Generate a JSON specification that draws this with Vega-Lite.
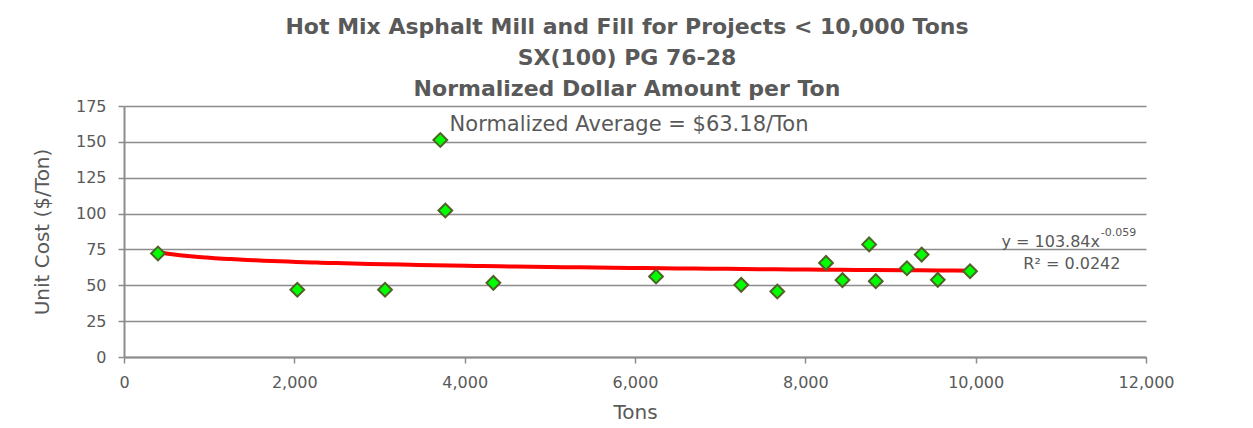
{
  "$schema": "https://vega.github.io/schema/vega-lite/v6.json",
  "width": 1022,
  "height": 251,
  "autosize": {"type": "none"},
  "padding": {"left": 124, "top": 106, "right": 107, "bottom": 71},
  "background": "white",
  "title": {
    "text": ["Hot Mix Asphalt Mill and Fill for Projects < 10,000 Tons", "SX(100) PG 76-28", "Normalized Dollar Amount per Ton"],
    "font": "DejaVu Sans",
    "fontSize": 22,
    "fontWeight": "bold",
    "color": "#595959",
    "lineHeight": 31,
    "anchor": "middle",
    "dx": -8,
    "offset": -3
  },
  "config": {
    "view": {"stroke": null},
    "font": "DejaVu Sans",
    "axis": {
      "labelFont": "DejaVu Sans",
      "titleFont": "DejaVu Sans",
      "labelColor": "#595959",
      "titleColor": "#595959",
      "labelFontSize": 16,
      "titleFontSize": 20,
      "titleFontWeight": "normal",
      "domainColor": "#8c8c8c",
      "domainWidth": 2,
      "tickColor": "#8c8c8c",
      "tickWidth": 1.5,
      "tickSize": 6,
      "gridColor": "#8c8c8c",
      "gridWidth": 1.5,
      "labelFlush": false
    }
  },
  "layer": [
    {
      "data": {
        "values": [
          {"tons": 399, "cost": 72.2},
          {"tons": 2035, "cost": 46.9},
          {"tons": 3065, "cost": 46.9},
          {"tons": 3714, "cost": 151.3},
          {"tons": 3773, "cost": 102.1},
          {"tons": 4337, "cost": 51.7},
          {"tons": 6247, "cost": 56.1},
          {"tons": 7247, "cost": 50.3},
          {"tons": 7671, "cost": 45.7},
          {"tons": 8243, "cost": 65.6},
          {"tons": 8436, "cost": 53.6},
          {"tons": 8749, "cost": 78.5},
          {"tons": 8827, "cost": 52.9},
          {"tons": 9193, "cost": 61.9},
          {"tons": 9366, "cost": 71.4},
          {"tons": 9555, "cost": 53.8},
          {"tons": 9934, "cost": 59.8}
        ]
      },
      "encoding": {
        "x": {
          "field": "tons",
          "type": "quantitative",
          "scale": {"domain": [0, 12000], "nice": false, "zero": true},
          "axis": {
            "title": "Tons",
            "values": [0, 2000, 4000, 6000, 8000, 10000, 12000],
            "labelExpr": "format(datum.value, ',')",
            "grid": false,
            "labelPadding": 11,
            "titlePadding": 12
          }
        },
        "y": {
          "field": "cost",
          "type": "quantitative",
          "scale": {"domain": [0, 175], "nice": false},
          "axis": {
            "title": "Unit Cost  ($/Ton)",
            "values": [0, 25, 50, 75, 100, 125, 150, 175],
            "grid": true,
            "labelPadding": 12,
            "titlePadding": 23
          }
        }
      },
      "layer": [
        {
          "transform": [{"regression": "cost", "on": "tons", "method": "pow"}],
          "mark": {"type": "line", "color": "#ff0000", "strokeWidth": 4, "interpolate": "monotone"}
        },
        {
          "mark": {"type": "point", "shape": "diamond", "filled": true, "fill": "#00ff00", "stroke": "#4f6228", "strokeWidth": 2, "size": 190, "opacity": 1}
        }
      ]
    },
    {
      "data": {
        "values": [
          {"label": "Normalized Average = $63.18/Ton", "part": "avg"},
          {"label": "y = 103.84x", "part": "eq"},
          {"label": "-0.059", "part": "exp"},
          {"label": "R² = 0.0242", "part": "r2"}
        ]
      },
      "encoding": {
        "x": {
          "datum": 0,
          "type": "quantitative",
          "scale": {"domain": [0, 12000], "nice": false, "zero": true},
          "axis": {
            "title": "Tons",
            "values": [0, 2000, 4000, 6000, 8000, 10000, 12000],
            "labelExpr": "format(datum.value, ',')",
            "grid": false,
            "labelPadding": 11,
            "titlePadding": 12
          }
        },
        "y": {
          "datum": 0,
          "type": "quantitative",
          "scale": {"domain": [0, 175], "nice": false},
          "axis": {
            "title": "Unit Cost  ($/Ton)",
            "values": [0, 25, 50, 75, 100, 125, 150, 175],
            "grid": true,
            "labelPadding": 12,
            "titlePadding": 23
          }
        },
        "text": {"field": "label"}
      },
      "layer": [
        {
          "transform": [{"filter": "datum.part === 'avg'"}],
          "mark": {"type": "text", "fontSize": 21, "color": "#595959", "align": "center", "baseline": "middle", "font": "DejaVu Sans"},
          "encoding": {
            "x": {"datum": 5930, "type": "quantitative"},
            "y": {"datum": 162, "type": "quantitative"}
          }
        },
        {
          "transform": [{"filter": "datum.part === 'eq'"}],
          "mark": {"type": "text", "fontSize": 16, "color": "#595959", "align": "right", "baseline": "middle", "font": "DejaVu Sans"},
          "encoding": {
            "x": {"datum": 11460, "type": "quantitative"},
            "y": {"datum": 80.5, "type": "quantitative"}
          }
        },
        {
          "transform": [{"filter": "datum.part === 'exp'"}],
          "mark": {"type": "text", "fontSize": 11, "color": "#595959", "align": "left", "baseline": "middle", "font": "DejaVu Sans"},
          "encoding": {
            "x": {"datum": 11470, "type": "quantitative"},
            "y": {"datum": 86.5, "type": "quantitative"}
          }
        },
        {
          "transform": [{"filter": "datum.part === 'r2'"}],
          "mark": {"type": "text", "fontSize": 16, "color": "#595959", "align": "center", "baseline": "middle", "font": "DejaVu Sans"},
          "encoding": {
            "x": {"datum": 11130, "type": "quantitative"},
            "y": {"datum": 64.5, "type": "quantitative"}
          }
        }
      ]
    }
  ]
}
